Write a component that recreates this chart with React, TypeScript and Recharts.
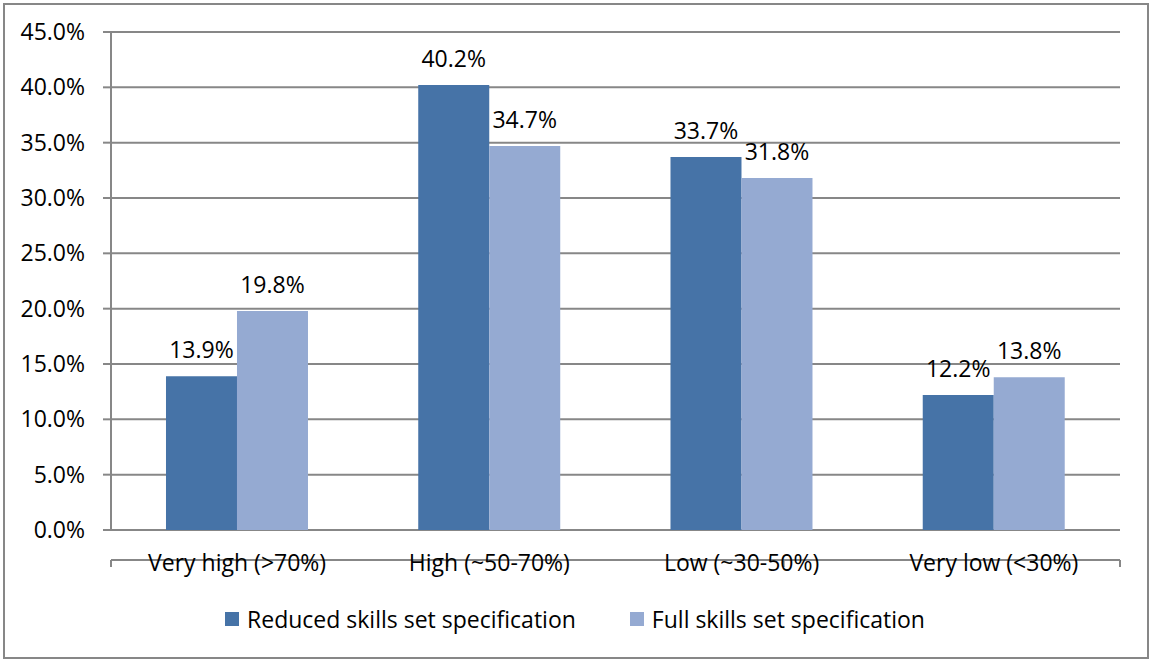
import React from 'react';
import { BarChart, Bar, XAxis, YAxis, CartesianGrid, LabelList } from 'recharts';

const categories = ['Very high (>70%)', 'High (~50-70%)', 'Low (~30-50%)', 'Very low (<30%)'];
const reduced = [13.9, 40.2, 33.7, 12.2];
const full = [19.8, 34.7, 31.8, 13.8];
const yTicks = [0, 5, 10, 15, 20, 25, 30, 35, 40, 45];
const seriesNames = ['Reduced skills set specification', 'Full skills set specification'];

const DARK = '#4673a7';
const LIGHT = '#95aad2';
const GRID = '#878787';
const FONT = '"Open Sans", Lato, sans-serif';
const FS = 23;

const data = categories.map((name, i) => ({
  name,
  reduced: reduced[i],
  full: full[i],
}));

const pct = (v: number) => `${Number(v).toFixed(1)}%`;

function LegendBox() {
  const colors = [DARK, LIGHT];
  return (
    <div
      style={{
        position: 'absolute',
        left: 0,
        top: 604,
        width: 1150,
        display: 'flex',
        justifyContent: 'center',
        gap: 54,
        fontFamily: FONT,
        fontSize: FS,
        color: '#000',
        lineHeight: '30px',
      }}
    >
      {seriesNames.map((n, i) => (
        <div key={n} style={{ display: 'flex', alignItems: 'center' }}>
          <span style={{ width: 14, height: 14, background: colors[i], display: 'inline-block', marginRight: 8 }} />
          <span>{n}</span>
        </div>
      ))}
    </div>
  );
}

export default function App() {
  return (
    <div style={{ position: 'absolute', left: 0, top: 0, width: 1150, height: 661, background: '#fff' }}>
      <div
        style={{
          position: 'absolute',
          left: 3,
          top: 3,
          width: 1142,
          height: 652,
          border: `2px solid ${GRID}`,
        }}
      />
      <BarChart
        width={1150}
        height={661}
        data={data}
        margin={{ top: 32, right: 30, bottom: 100, left: 0 }}
        barCategoryGap="21.8%"
        barGap={0}
        style={{ position: 'absolute', left: 0, top: 0 }}
      >
        <CartesianGrid vertical={false} stroke={GRID} strokeWidth={2} xAxisId="cat" />
        <XAxis
          xAxisId="num"
          type="number"
          domain={[0, 4]}
          ticks={[0, 1, 2, 3, 4]}
          height={1}
          axisLine={{ stroke: GRID, strokeWidth: 2 }}
          tickLine={{ stroke: GRID, strokeWidth: 2 }}
          tickSize={7}
          tickFormatter={() => ''}
        />
        <XAxis
          xAxisId="cat"
          dataKey="name"
          height={30}
          axisLine={false}
          tickLine={false}
          tickSize={6}
          tickMargin={19}
          tick={{ fill: '#000', fontSize: FS, fontFamily: FONT }}
          interval={0}
        />
        <YAxis
          width={111}
          domain={[0, 45]}
          ticks={yTicks}
          tickFormatter={pct}
          axisLine={{ stroke: GRID, strokeWidth: 2 }}
          tickLine={{ stroke: GRID, strokeWidth: 2 }}
          tickSize={8}
          tickMargin={18}
          tick={{ fill: '#000', fontSize: FS, fontFamily: FONT }}
        />
        <Bar xAxisId="cat" dataKey="reduced" fill={DARK} isAnimationActive={false}>
          <LabelList dataKey="reduced" position="top" formatter={pct} fill="#000" fontSize={FS} fontFamily={FONT} offset={18} />
        </Bar>
        <Bar xAxisId="cat" dataKey="full" fill={LIGHT} isAnimationActive={false}>
          <LabelList dataKey="full" position="top" formatter={pct} fill="#000" fontSize={FS} fontFamily={FONT} offset={18} />
        </Bar>
      </BarChart>
      <LegendBox />
    </div>
  );
}
